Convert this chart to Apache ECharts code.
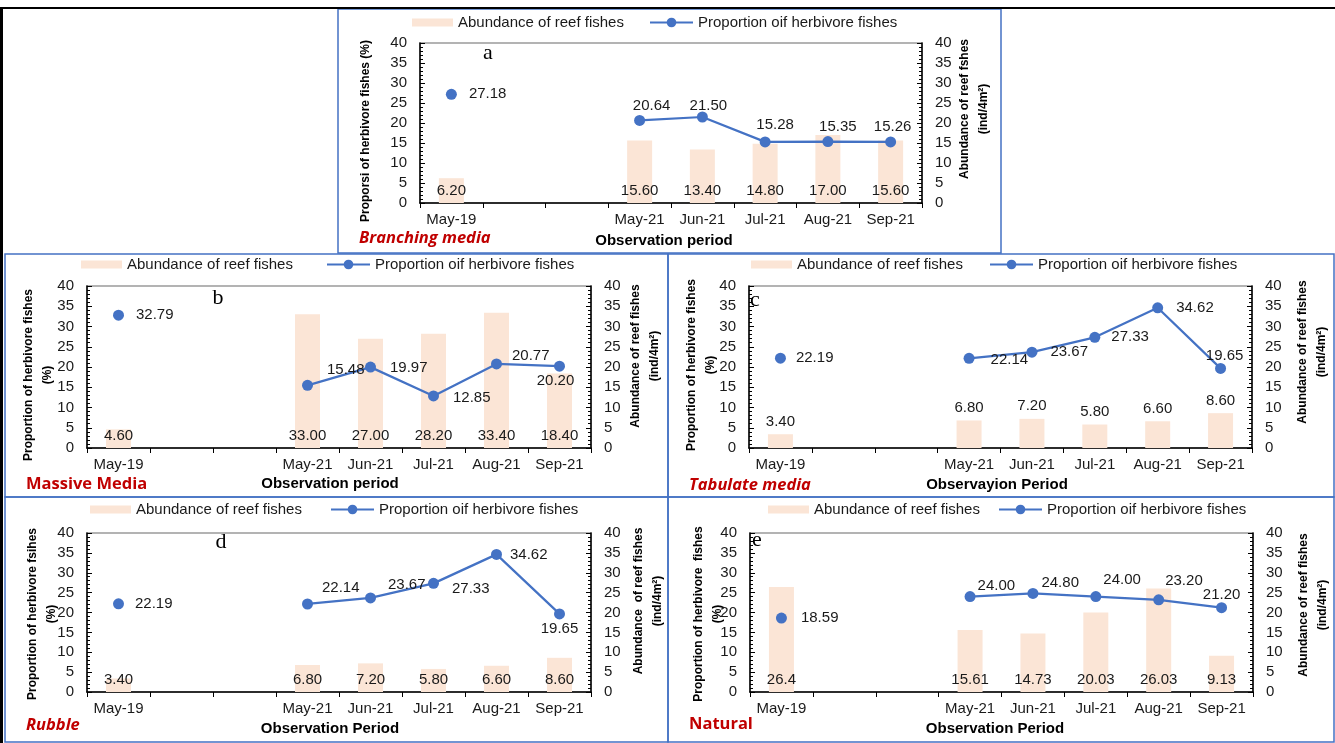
<!DOCTYPE html>
<html>
<head>
<meta charset="utf-8">
<script src="https://cdn.jsdelivr.net/npm/echarts@6/dist/echarts.min.js"></script>
<style>
  html, body { margin: 0; padding: 0; background: #ffffff; }
  #chart { width: 1335px; height: 743px; }
</style>
</head>
<body>
<div id="chart"></div>
<script>
// Observation months; the two blank slots mark the gap between 2019 and 2021
const categories = ['May-19', '', '', 'May-21', 'Jun-21', 'Jul-21', 'Aug-21', 'Sep-21'];
const axisMin = 0;
const axisMax = 40;
const axisStep = 5;

// Abundance of reef fishes (ind/4m2) and proportion of herbivore fishes (%) per substrate
const branchingAbundance = [6.20, null, null, 15.60, 13.40, 14.80, 17.00, 15.60];
const branchingHerbivore = [27.18, null, null, 20.64, 21.50, 15.28, 15.35, 15.26];
const massiveAbundance = [4.60, null, null, 33.00, 27.00, 28.20, 33.40, 18.40];
const massiveHerbivore = [32.79, null, null, 15.48, 19.97, 12.85, 20.77, 20.20];
const tabulateAbundance = [3.40, null, null, 6.80, 7.20, 5.80, 6.60, 8.60];
const tabulateHerbivore = [22.19, null, null, 22.14, 23.67, 27.33, 34.62, 19.65];
const rubbleAbundance = [3.40, null, null, 6.80, 7.20, 5.80, 6.60, 8.60];
const rubbleHerbivore = [22.19, null, null, 22.14, 23.67, 27.33, 34.62, 19.65];
const naturalAbundance = [26.4, null, null, 15.61, 14.73, 20.03, 26.03, 9.13];
const naturalHerbivore = [18.59, null, null, 24.00, 24.80, 24.00, 23.20, 21.20];

const BAR_NAME = 'Abundance of reef fishes';
const LINE_NAME = 'Proportion oif herbivore fishes';
const FONT = '"Liberation Sans", Arial, sans-serif';
const BLUE = '#4472C4';
const PEACH = '#FBE5D6';
const RED = '#C00000';
const INK = '#1a1a1a';

// helpers for per-point label placement of the line series
const R = (distance, offset) => ({ position: 'right', distance: distance, offset: offset || [0, 0] });
const T = (distance, offset) => ({ position: 'top', distance: distance, offset: offset || [0, 0] });
const B = (distance, offset) => ({ position: 'bottom', distance: distance, offset: offset || [0, 0] });

const panels = [
  {
    grid: { left: 420, top: 43, width: 502, height: 160 },
    frame: [338, 9, 663, 244],
    legendY: 23, barLegendX: 412, lineLegendX: 649,
    abundance: branchingAbundance, herbivore: branchingHerbivore,
    barLabelPosition: 'insideBottom',
    lineLabels: [R(12), null, null, T(2, [12, 0]), T(2, [6, 4]), T(2, [10, -2]), T(2, [10, 0]), T(2, [2, 0])],
    leftTitle: { text: 'Proporsi of herbivore fishes (%)', x: 366, y: 131 },
    rightTitle: { text: 'Abundance of reef fshes\n(ind/4m²)', x: 974, y: 109 },
    xTitle: { text: 'Observation period', x: 664, y: 241 },
    media: { text: 'Branching media', x: 359, y: 238, italic: true },
    letter: { text: 'a', x: 488, y: 53 }
  },
  {
    grid: { left: 87, top: 286, width: 504, height: 162 },
    frame: [5, 254, 663, 243],
    legendY: 265, barLegendX: 81, lineLegendX: 326,
    abundance: massiveAbundance, herbivore: massiveHerbivore,
    barLabelPosition: 'insideBottom',
    lineLabels: [R(12), null, null, R(14, [0, -15]), R(14, [0, 1]), R(14, [0, 2]), R(10, [0, -8]), B(2, [-4, 0])],
    leftTitle: { text: 'Proportion of herbivore fishes\n(%)', x: 38, y: 375 },
    rightTitle: { text: 'Abundance of reef fishes\n(ind/4m²)', x: 645, y: 356 },
    xTitle: { text: 'Observation period', x: 330, y: 484 },
    media: { text: 'Massive Media', x: 26, y: 484, italic: false },
    letter: { text: 'b', x: 218, y: 298 }
  },
  {
    grid: { left: 749, top: 286, width: 503, height: 162 },
    frame: [668, 254, 666, 243],
    legendY: 265, barLegendX: 751, lineLegendX: 989,
    abundance: tabulateAbundance, herbivore: tabulateHerbivore,
    barLabelPosition: 'top',
    lineLabels: [R(10), null, null, R(16, [0, 2]), R(13), R(11), R(13), T(0, [4, 0])],
    leftTitle: { text: 'Proportion of herbivore fishes\n(%)', x: 701, y: 365 },
    rightTitle: { text: 'Abundance of reef fishes\n(ind/4m²)', x: 1312, y: 352 },
    xTitle: { text: 'Observayion Period', x: 997, y: 485 },
    media: { text: 'Tabulate media', x: 689, y: 485, italic: true },
    letter: { text: 'c', x: 755, y: 300 }
  },
  {
    grid: { left: 87, top: 533, width: 504, height: 159 },
    frame: [5, 497, 663, 245],
    legendY: 510, barLegendX: 90, lineLegendX: 330,
    abundance: rubbleAbundance, herbivore: rubbleHerbivore,
    barLabelPosition: 'insideBottom',
    lineLabels: [R(11), null, null, R(9, [0, -16]), R(12, [0, -13]), R(13, [0, 5]), R(8), B(2)],
    leftTitle: { text: 'Proportion of herbivore fsihes\n(%)', x: 42, y: 614 },
    rightTitle: { text: 'Abundance  of reef fishes\n(ind/4m²)', x: 648, y: 601 },
    xTitle: { text: 'Observation Period', x: 330, y: 729 },
    media: { text: 'Rubble', x: 26, y: 725, italic: true },
    letter: { text: 'd', x: 221, y: 542 }
  },
  {
    grid: { left: 750, top: 533, width: 503, height: 159 },
    frame: [668, 497, 666, 245],
    legendY: 510, barLegendX: 768, lineLegendX: 998,
    abundance: naturalAbundance, herbivore: naturalHerbivore,
    barLabelPosition: 'insideBottom',
    lineLabels: [R(14), null, null, R(2, [0, -11]), R(3, [0, -11]), R(2, [0, -17]), R(1, [0, -19]), T(0)],
    leftTitle: { text: 'Proportion of herbivore  fishes\n(%)', x: 708, y: 614 },
    rightTitle: { text: 'Abundance of reef fishes\n(ind/4m²)', x: 1313, y: 605 },
    xTitle: { text: 'Observation Period', x: 995, y: 729 },
    media: { text: 'Natural', x: 689, y: 724, italic: false },
    letter: { text: 'e', x: 757, y: 540 },
    barLabelFormat: { 0: '{c}' }
  }
];

const fixed2 = p => (typeof p.value === 'number' ? p.value.toFixed(2) : '');

const grids = [], xAxes = [], yAxes = [], series = [], legends = [], graphics = [];

function yAxisFor(gridIndex, position) {
  return {
    type: 'value', gridIndex: gridIndex, position: position,
    min: axisMin, max: axisMax, interval: axisStep,
    axisLine: { show: true, lineStyle: { color: '#000', width: 1.5 } },
    axisTick: { show: true, inside: true, length: 5, lineStyle: { color: '#000' } },
    minorTick: { show: true, splitNumber: 5, length: 3, lineStyle: { color: '#000' } },
    axisLabel: { fontFamily: FONT, fontSize: 15, color: INK, margin: 13 },
    splitLine: { show: false }
  };
}

function centredText(t, font, fill, rotate) {
  return {
    type: 'text', x: t.x, y: t.y, rotation: rotate ? Math.PI / 2 : 0, silent: true,
    style: {
      text: t.text, x: 0, y: 0, fill: fill, font: font, lineHeight: 19,
      align: 'center', verticalAlign: 'middle',
      textAlign: 'center', textVerticalAlign: 'middle'
    }
  };
}

panels.forEach((p, i) => {
  grids.push(Object.assign({ show: true, borderColor: '#9a9a9a', borderWidth: 1.5, backgroundColor: 'transparent' }, p.grid));

  xAxes.push({
    type: 'category', gridIndex: i, data: categories, boundaryGap: true,
    axisLine: { show: true, lineStyle: { color: '#000', width: 1.5 } },
    axisTick: { show: true, interval: 0, alignWithLabel: false, length: 5, lineStyle: { color: '#000' } },
    axisLabel: { interval: 0, fontFamily: FONT, fontSize: 15, color: INK, margin: 9 },
    splitLine: { show: false }
  });

  yAxes.push(yAxisFor(i, 'left'));
  yAxes.push(yAxisFor(i, 'right'));

  const barData = p.abundance.map((v, k) => {
    if (v === null) return '-';
    const fmt = p.barLabelFormat && p.barLabelFormat[k];
    return fmt ? { value: v, label: { formatter: fmt } } : v;
  });

  series.push({
    type: 'bar', name: BAR_NAME, xAxisIndex: i, yAxisIndex: 2 * i + 1,
    data: barData, barWidth: 25,
    itemStyle: { color: PEACH },
    label: {
      show: true, position: p.barLabelPosition, distance: 5,
      fontFamily: FONT, fontSize: 15, color: INK, formatter: fixed2
    },
    z: 1
  });

  const lineData = p.herbivore.map((v, k) => {
    if (v === null) return '-';
    return { value: v, label: p.lineLabels[k] };
  });

  series.push({
    type: 'line', name: LINE_NAME, xAxisIndex: i, yAxisIndex: 2 * i,
    data: lineData, connectNulls: false,
    symbol: 'circle', symbolSize: 11, showAllSymbol: true,
    lineStyle: { color: BLUE, width: 2.25 },
    itemStyle: { color: BLUE },
    label: { show: true, fontFamily: FONT, fontSize: 15, color: INK, formatter: fixed2 },
    emphasis: { disabled: true },
    z: 3
  });

  legends.push({
    data: [BAR_NAME], left: p.barLegendX, top: p.legendY - 8, padding: 0,
    icon: 'rect', itemWidth: 41, itemHeight: 8, selectedMode: false,
    textStyle: { fontFamily: FONT, fontSize: 15, color: INK }
  });
  legends.push({
    data: [LINE_NAME], left: p.lineLegendX, top: p.legendY - 8, padding: 0,
    itemWidth: 43, itemHeight: 12, selectedMode: false,
    textStyle: { fontFamily: FONT, fontSize: 15, color: INK }
  });

  // panel frame
  graphics.push({
    type: 'rect', silent: true,
    shape: { x: p.frame[0], y: p.frame[1], width: p.frame[2], height: p.frame[3] },
    style: { fill: 'none', stroke: BLUE, lineWidth: 1.5 }
  });

  const titleFont = 'bold 12px ' + FONT;
  graphics.push(centredText(p.leftTitle, titleFont, '#000', true));
  graphics.push(centredText(p.rightTitle, titleFont, '#000', true));
  graphics.push(centredText(p.xTitle, 'bold 15px ' + FONT, '#000', false));
  graphics.push({
    type: 'text', x: p.media.x, y: p.media.y, silent: true,
    style: {
      text: p.media.text, x: 0, y: 0, fill: RED,
      font: (p.media.italic ? 'italic ' : '') + 'bold 16.5px "Open Sans", sans-serif',
      align: 'left', verticalAlign: 'middle', textAlign: 'left', textVerticalAlign: 'middle'
    }
  });
  graphics.push(centredText(p.letter, '22px "Liberation Serif", "Times New Roman", serif', '#000', false));
});

// outer frame lines
graphics.push({ type: 'line', silent: true, shape: { x1: 0, y1: 8, x2: 1335, y2: 8 }, style: { stroke: '#000', lineWidth: 2 } });
graphics.push({ type: 'line', silent: true, shape: { x1: 1.5, y1: 8, x2: 1.5, y2: 743 }, style: { stroke: '#000', lineWidth: 3 } });

const chart = echarts.init(document.getElementById('chart'), null, { renderer: 'canvas' });
chart.setOption({
  animation: false,
  backgroundColor: '#ffffff',
  grid: grids,
  xAxis: xAxes,
  yAxis: yAxes,
  legend: legends,
  series: series,
  graphic: graphics
});
</script>
</body>
</html>
